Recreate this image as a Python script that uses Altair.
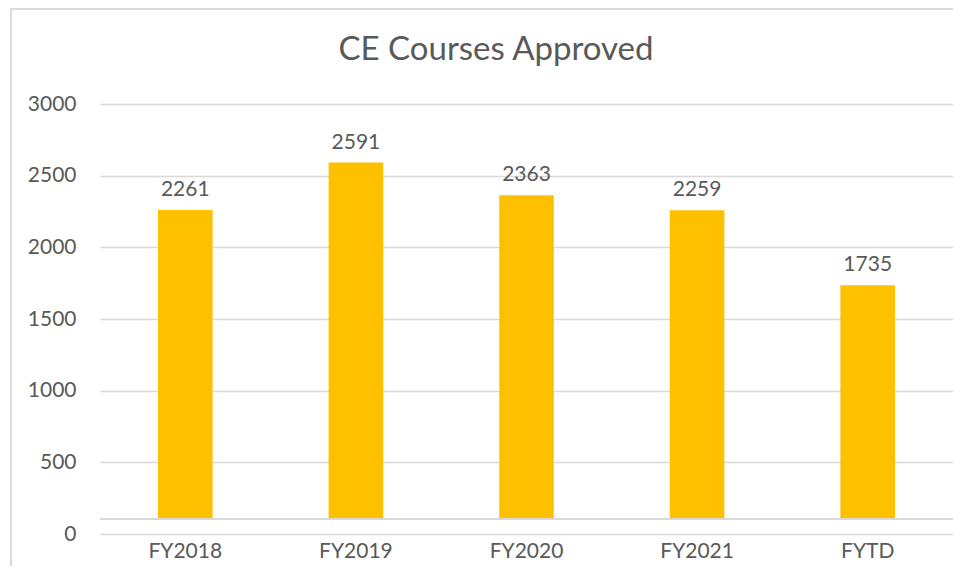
import altair as alt
import pandas as pd

categories = ["FY2018", "FY2019", "FY2020", "FY2021", "FYTD"]
values = [2261, 2591, 2363, 2259, 1735]
y_ticks = [0, 500, 1000, 1500, 2000, 2500, 3000]
BASE = 105  # bars in the reference rise from a baseline just above zero
TITLE = "CE Courses Approved"

df = pd.DataFrame({"cat": categories, "val": values, "base": [BASE] * len(values)})

FONT = "Lato"
TXT = "#595959"
GRID = "#d9d9d9"

x = alt.X("cat:N", sort=categories, title=None,
          scale=alt.Scale(paddingInner=0.68, paddingOuter=0.34),
          axis=alt.Axis(labelAngle=0, labelFont=FONT, labelFontSize=21, labelColor=TXT,
                        ticks=False, domain=False, labelPadding=6, grid=False))
y = alt.Y("val:Q", title=None,
          scale=alt.Scale(domain=[0, 3000], nice=False),
          axis=alt.Axis(values=y_ticks, format="d", labelFont=FONT, labelFontSize=21,
                        labelColor=TXT, ticks=False, domain=False, labelPadding=24,
                        grid=True, gridColor=GRID, gridWidth=1.5))

bars = alt.Chart(df).mark_bar(color="#FFC000").encode(x=x, y=y, y2="base:Q")
labels = alt.Chart(df).mark_text(baseline="bottom", dy=-10, font=FONT, fontSize=21,
                                 color=TXT).encode(x=alt.X("cat:N", sort=categories),
                                                   y="val:Q", text="val:Q")
baseline = alt.Chart(df).mark_rule(color=GRID, strokeWidth=1.5).encode(
    y="base:Q", x=alt.value(0), x2=alt.value(853))
border = alt.Chart(df).mark_rect(fill=None, stroke=GRID, strokeWidth=2).encode(
    x=alt.value(-89), y=alt.value(-95), x2=alt.value(1000), y2=alt.value(1000))
title = alt.Chart(pd.DataFrame({"t": [TITLE]})).mark_text(
    font=FONT, fontSize=33, color=TXT, baseline="middle", align="center").encode(
    text="t:N", x=alt.value(396), y=alt.value(-54))

chart = alt.layer(bars, baseline, labels, border, title).properties(
    width=853, height=430,
    padding={"left": 92, "top": 96, "right": 0, "bottom": 32},
    autosize=alt.AutoSizeParams(type="none"),
).configure_view(stroke=None)

chart.save("out.html", embed_options={"renderer": "svg", "actions": False})
